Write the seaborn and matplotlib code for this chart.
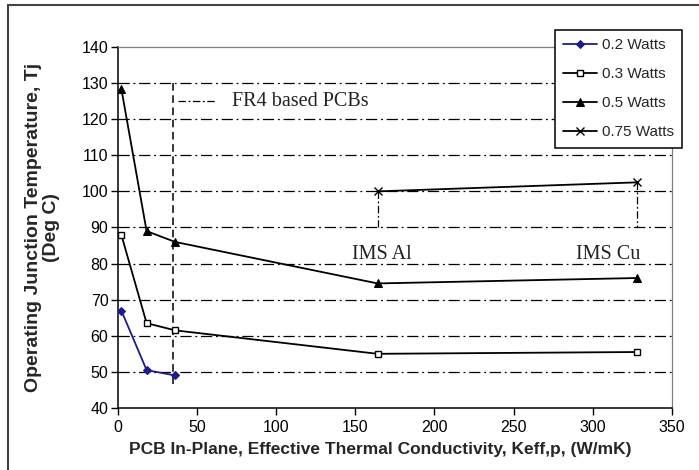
import numpy as np
import pandas as pd
import seaborn as sns
import matplotlib.pyplot as plt
from matplotlib.patches import Rectangle

# values
k_02 = [2, 18, 36]
tj_02 = [67, 50.5, 49]
k_03 = [2, 18, 36, 164, 328]
tj_03 = [88, 63.5, 61.5, 55, 55.5]
k_05 = [2, 18, 36, 164, 328]
tj_05 = [128.5, 89, 86, 74.5, 76]
k_075 = [164, 328]
tj_075 = [100, 102.5]
labels = ["0.2 Watts", "0.3 Watts", "0.5 Watts", "0.75 Watts"]
x_ticks = [0, 50, 100, 150, 200, 250, 300, 350]
y_ticks = [40, 50, 60, 70, 80, 90, 100, 110, 120, 130, 140]

sns.set_style("white")
plt.rcParams["font.family"] = ["Liberation Sans", "DejaVu Sans"]

fig = plt.figure(figsize=(6.99, 4.70), dpi=100)
ax = fig.add_axes([0.169, 0.132, 0.792, 0.768])

dashdot = (0, (9, 3, 1.5, 3))
for yv in y_ticks[1:-1]:
    ax.axhline(yv, color="black", lw=0.9, linestyle=dashdot, zorder=1)

series = [
    (k_02, tj_02, dict(color="#1c1c8c", marker="D", markersize=4.5,
                       markerfacecolor="#1c1c8c", markeredgecolor="#1c1c8c")),
    (k_03, tj_03, dict(color="black", marker="s", markersize=4.5,
                       markerfacecolor="white", markeredgecolor="black", markeredgewidth=1)),
    (k_05, tj_05, dict(color="black", marker="^", markersize=6,
                       markerfacecolor="black", markeredgecolor="black")),
    (k_075, tj_075, dict(color="black", marker="x", markersize=5.5,
                         markeredgecolor="black", markeredgewidth=1)),
]
for (xs, ys, kw), lab in zip(series, labels):
    sns.lineplot(x=xs, y=ys, ax=ax, label=lab, linewidth=1.3, zorder=3, **kw)

# FR4 boundary and IMS annotations
ax.plot([35, 35], [130, 46], color="black", lw=1.1, linestyle=(0, (5, 3)), zorder=2)
ax.plot([38, 61], [125, 125], color="black", lw=0.9, linestyle=(0, (6, 2, 1.5, 2)))
ax.text(72, 125, "FR4 based PCBs", family="Liberation Serif", fontsize=14.5,
        va="center", ha="left", color="#222222")
ax.plot([k_075[0], k_075[0]], [tj_075[0], 90], color="black", lw=0.9, linestyle=(0, (6, 2, 1.5, 2)))
ax.plot([k_075[1], k_075[1]], [tj_075[1], 90], color="black", lw=0.9, linestyle=(0, (6, 2, 1.5, 2)))
ax.text(148, 82.5, "IMS Al", family="Liberation Serif", fontsize=14.5,
        va="center", ha="left", color="#222222")
ax.text(330, 82.5, "IMS Cu", family="Liberation Serif", fontsize=14.5,
        va="center", ha="right", color="#222222")

ax.set_xlim(0, 350)
ax.set_ylim(40, 140)
ax.set_xticks(x_ticks)
ax.set_yticks(y_ticks)
ax.tick_params(axis="both", direction="out", length=5, width=1, labelsize=11.5,
               colors="black", bottom=True, left=True)
ax.tick_params(axis="y", pad=2)
for s in ["left", "bottom"]:
    ax.spines[s].set_color("black")
    ax.spines[s].set_linewidth(1.1)
for s in ["top", "right"]:
    ax.spines[s].set_color("#808080")
    ax.spines[s].set_linewidth(0.9)

ax.set_xlabel("PCB In-Plane, Effective Thermal Conductivity, Keff,p, (W/mK)",
              fontsize=12.5, fontweight="bold")
ax.xaxis.set_label_coords(0.473, -0.093)
ax.set_ylabel("Operating Junction Temperature, Tj\n(Deg C)",
              fontsize=14, fontweight="bold", linespacing=1.1)
ax.yaxis.set_label_coords(-0.105, 0.5)

leg = ax.legend(loc="upper left", bbox_to_anchor=(555 / 699, 1 - 30 / 470),
                bbox_transform=fig.transFigure, fontsize=11, frameon=True,
                fancybox=False, edgecolor="black", framealpha=1,
                handlelength=2.2, handletextpad=0.3, labelspacing=0.98,
                borderpad=0.55, borderaxespad=0)
leg.get_frame().set_linewidth(1.1)

fig.patches.append(Rectangle((8 / 699, -0.1), 1.2, 1.0 - 5 / 470 + 0.1,
                             transform=fig.transFigure, fill=False,
                             edgecolor="#444444", linewidth=1.5))

fig.savefig("out.png", dpi=100)
